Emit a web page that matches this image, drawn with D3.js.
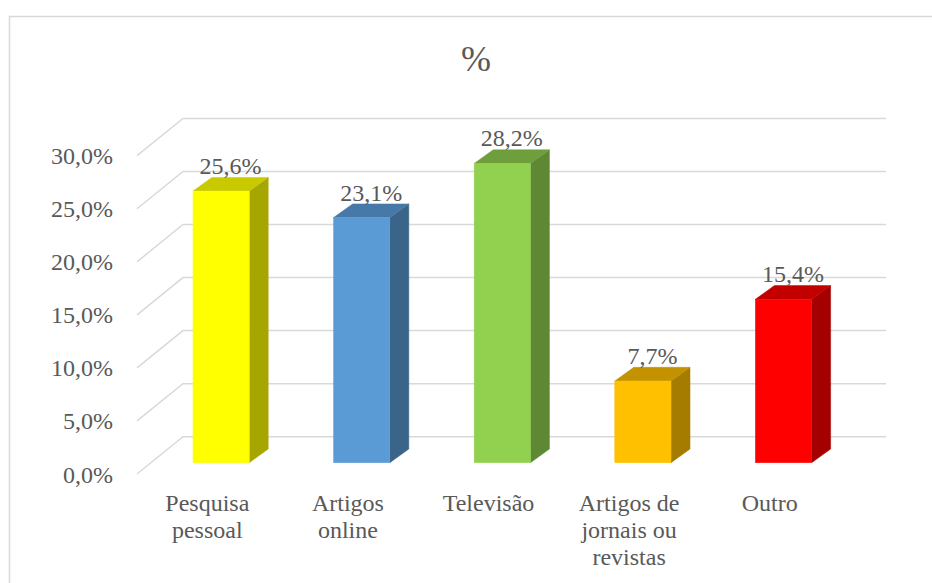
<!DOCTYPE html>
<html>
<head>
<meta charset="utf-8">
<script src="https://cdn.jsdelivr.net/npm/d3@7/dist/d3.min.js"></script>
<style>
  html, body { margin: 0; padding: 0; background: #ffffff; }
  svg { display: block; }
</style>
</head>
<body>
<svg id="chart" width="932" height="583"></svg>
<script>
// Chart data
const title = "%";
const categories = [
  ["Pesquisa", "pessoal"],
  ["Artigos", "online"],
  ["Televisão"],
  ["Artigos de", "jornais ou", "revistas"],
  ["Outro"]
];
const values = [25.6, 23.1, 28.2, 7.7, 15.4];
const yTicks = [0, 5, 10, 15, 20, 25, 30];
const frontColors = ["#FFFF00", "#5B9BD5", "#92D050", "#FFC000", "#FF0000"];
const topColors   = ["#C9C900", "#4679A8", "#6F9F3C", "#C29200", "#C20000"];
const sideColors  = ["#A6A600", "#3A6589", "#5E8834", "#A57B00", "#A50000"];

const FONT = "'Liberation Serif', 'Times New Roman', Tinos, serif";
const TEXT = "#595959";
const svg = d3.select("#chart");

// Shared text styling
function label(sel, size) {
  return sel.style("font-family", FONT).style("font-size", size + "px").style("fill", TEXT);
}

// Oblique 3D layout: front floor edge, wall depth and bar depth offsets
const floorX = 137, floorY = 474, floorW = 703;
const wallDX = 46, wallDY = -37.3;
const barDX0 = 13.8, barDY0 = -11.3;   // bar front face inside the floor depth
const barDX = 19, barDY = -13.7;       // bar thickness in depth

const y = d3.scaleLinear().domain([0, 30]).range([0, 318.3]);
const x = d3.scaleBand().domain(d3.range(categories.length))
  .range([0, floorW]).paddingInner(0.6).paddingOuter(0.3);
const xCenter = d3.scaleBand().domain(d3.range(categories.length)).range([0, floorW]);

const fmt = v => d3.format(".1f")(v).replace(".", ",") + "%";

// Chart area border
svg.append("path")
  .attr("d", `M9.5,583 V16.5 H932`)
  .attr("fill", "none").attr("stroke", "#D9D9D9").attr("stroke-width", 1.5);

// Title
label(svg.append("text"), 36).attr("x", 476).attr("y", 71)
  .attr("text-anchor", "middle")
  .text(title);

// Gridlines: along the side wall, then across the back wall
const grid = svg.append("g");
yTicks.forEach(t => {
  const fy = floorY - y(t);
  grid.append("polyline")
    .attr("points", [[floorX, fy], [floorX + wallDX, fy + wallDY], [floorX + wallDX + floorW, fy + wallDY]].join(" "))
    .attr("fill", "none").attr("stroke", "#D9D9D9").attr("stroke-width", 1.5);
});

// Value axis labels at the front end of each gridline
label(svg.append("g").selectAll("text").data(yTicks).join("text"), 24)
  .attr("x", 113).attr("y", d => floorY - y(d) + 8.5)
  .attr("text-anchor", "end")
  .text(fmt);

// Bars (front, side, top faces)
const bars = svg.append("g").selectAll("g").data(values).join("g");
bars.each(function(v, i) {
  const g = d3.select(this);
  const x0 = floorX + barDX0 + x(i), x1 = x0 + x.bandwidth();
  const yb = floorY + barDY0, yt = yb - y(v);
  g.append("path")
    .attr("d", `M${x1},${yb} L${x1 + barDX},${yb + barDY} L${x1 + barDX},${yt + barDY} L${x1},${yt} Z`)
    .attr("fill", sideColors[i]).attr("stroke", sideColors[i]).attr("stroke-width", 0.5);
  g.append("path")
    .attr("d", `M${x0},${yt} L${x0 + barDX},${yt + barDY} L${x1 + barDX},${yt + barDY} L${x1},${yt} Z`)
    .attr("fill", topColors[i]).attr("stroke", topColors[i]).attr("stroke-width", 0.5);
  g.append("rect")
    .attr("x", x0).attr("y", yt).attr("width", x.bandwidth()).attr("height", y(v))
    .attr("fill", frontColors[i]).attr("stroke", frontColors[i]).attr("stroke-width", 0.5);
  label(g.append("text"), 24)
    .attr("x", (x0 + x1) / 2 + barDX / 2).attr("y", yt - 17)
    .attr("text-anchor", "middle")
    .text(fmt(v));
});

// Category labels
label(svg.append("g").selectAll("text").data(categories).join("text"), 24)
  .attr("x", (d, i) => floorX + xCenter(i) + xCenter.bandwidth() / 2)
  .attr("y", 511)
  .attr("text-anchor", "middle")
  .each(function(lines) {
    const t = d3.select(this);
    lines.forEach((ln, k) => {
      t.append("tspan").attr("x", t.attr("x")).attr("dy", k === 0 ? 0 : 27).text(ln);
    });
  });
</script>
</body>
</html>
